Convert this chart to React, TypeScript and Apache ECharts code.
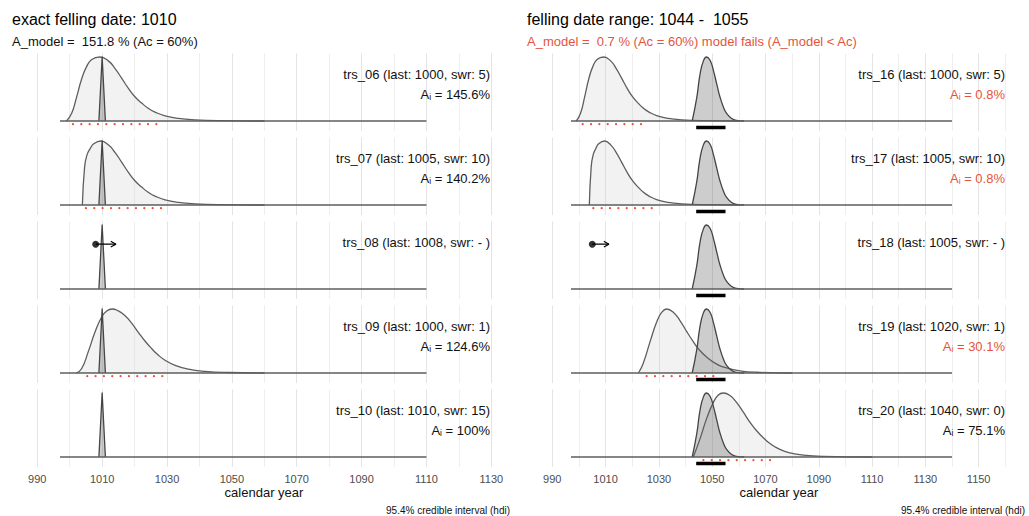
import React, { useEffect, useRef } from "react";
import * as echarts from "echarts";

// ---------------- data ----------------
const leftTicks = [990, 1010, 1030, 1050, 1070, 1090, 1110, 1130];
const rightTicks = [990, 1010, 1030, 1050, 1070, 1090, 1110, 1130, 1150];

const leftLabels = [
  "trs_06 (last: 1000, swr: 5)",
  "trs_07 (last: 1005, swr: 10)",
  "trs_08 (last: 1008, swr: - )",
  "trs_09 (last: 1000, swr: 1)",
  "trs_10 (last: 1010, swr: 15)",
];
const rightLabels = [
  "trs_16 (last: 1000, swr: 5)",
  "trs_17 (last: 1005, swr: 10)",
  "trs_18 (last: 1005, swr: - )",
  "trs_19 (last: 1020, swr: 1)",
  "trs_20 (last: 1040, swr: 0)",
];
const leftAi = ["145.6%", "140.2%", null, "124.6%", "100%"];
const rightAi = ["0.8%", "0.8%", null, "30.1%", "75.1%"];
const rightAiFail = [true, true, false, true, false];

// sapwood model densities (scaled to peak = 1)
const sap_swr5 = [
  [999, 0], [1000.6, 0.12], [1002.1, 0.37], [1003.7, 0.66], [1005.2, 0.85], [1006.8, 0.96],
  [1009.3, 1.0], [1011.9, 0.94], [1014, 0.82], [1016, 0.67], [1018.1, 0.51], [1020.1, 0.38],
  [1022.2, 0.28], [1024.2, 0.2], [1026.3, 0.14], [1029.4, 0.08], [1033.5, 0.04], [1038.6, 0.018],
  [1046.9, 0.005], [1060, 0],
];
const sap_swr10 = [
  [1003.9, 0], [1004.6, 0.6], [1005.3, 0.78], [1006.3, 0.88], [1007.5, 0.96], [1009.6, 1.0],
  [1011.9, 0.94], [1014, 0.82], [1016, 0.67], [1018.1, 0.51], [1020.1, 0.38], [1022.2, 0.28],
  [1024.2, 0.2], [1026.3, 0.14], [1029.4, 0.08], [1033.5, 0.04], [1038.6, 0.018], [1046.9, 0.005],
  [1060, 0],
];
const sap_trs09 = [
  [1002.1, 0], [1003.7, 0.07], [1005.7, 0.33], [1007.8, 0.64], [1009.9, 0.88], [1011.4, 0.97],
  [1013.1, 1.0], [1015, 0.97], [1017, 0.9], [1019.1, 0.78], [1021.1, 0.64], [1023.2, 0.5],
  [1025.3, 0.38], [1027.3, 0.28], [1029.4, 0.2], [1032.5, 0.12], [1036.6, 0.06], [1041.7, 0.026],
  [1049, 0.008], [1060, 0],
];
const sap_trs19 = [
  [1022.3, 0], [1024.1, 0.15], [1026.7, 0.49], [1029.2, 0.8], [1031.1, 0.95], [1032.9, 1.0],
  [1035.4, 0.95], [1037.9, 0.82], [1040.4, 0.65], [1042.9, 0.49], [1044.8, 0.38], [1047.9, 0.25],
  [1051.7, 0.14], [1055.4, 0.08], [1060.4, 0.035], [1066.7, 0.012], [1080, 0],
];
const sap_trs20 = [
  [1042.9, 0], [1045.4, 0.28], [1047.9, 0.6], [1050.4, 0.85], [1052.3, 0.97], [1054.2, 1.0],
  [1056.7, 0.96], [1059.2, 0.85], [1061.7, 0.7], [1064.2, 0.54], [1066.7, 0.41], [1069.2, 0.3],
  [1071.7, 0.21], [1075.4, 0.12], [1079.2, 0.065], [1084.2, 0.03], [1091.7, 0.01], [1110, 0],
];
const leftCurves = [sap_swr5, sap_swr10, null, sap_trs09, null];
const rightCurves = [sap_swr5, sap_swr10, null, sap_trs19, sap_trs20];

// combined felling-date models
const exactModel = [[1009, 0], [1010, 1], [1011, 0]];
const rangeModel = [
  [1042.5, 0], [1044.2, 0.36], [1045.4, 0.72], [1046.7, 0.94], [1047.9, 1.0], [1049.2, 0.95],
  [1050.4, 0.8], [1051.7, 0.58], [1052.9, 0.38], [1054.2, 0.22], [1055.4, 0.12], [1057.3, 0.04],
  [1059.2, 0.01], [1062, 0],
];
const rangeHdi = [1044, 1055];

// 95.4% hdi of each series
const leftHdi = [[1001, 1027], [1005, 1028.5], null, [1005.4, 1031], null];
const rightHdi = [[1001.4, 1026.4], [1005.4, 1027.5], null, [1025.4, 1051], [1046.7, 1073]];

// series without sapwood: last ring, arrow
const leftNoSap = [null, null, 1008, null, null];
const rightNoSap = [null, null, 1005, null, null];
const ARROW_LEN = 6.25;
const ARROW_Y = 0.7;

const leftBaseRange = [997, 1110];
const rightBaseRange = [997, 1140];

// ---------------- layout ----------------
const FONT = "'Liberation Sans', Arial, Helvetica, sans-serif";
const RED = "#e5533d";
const ROW_TOP0 = 53.5;
const ROW_STEP = 84;
const ROW_H = 77.5;
const Y_MIN = -0.156;
const Y_MAX = 1.055;

const panels = [
  {
    left: 30.8, width: 467, min: 988, max: 1132, ticks: leftTicks, gridFrom: 990, gridTo: 1130,
    labels: leftLabels, ai: leftAi, aiFail: [false, false, false, false, false], curves: leftCurves,
    model: exactModel, smoothModel: false, hdi: leftHdi, noSap: leftNoSap, bar: null,
    base: leftBaseRange, textRight: 490, center: 264, capRight: 510, headX: 1.6,
  },
  {
    left: 544.3, width: 469, min: 987, max: 1163, ticks: rightTicks, gridFrom: 990, gridTo: 1160,
    labels: rightLabels, ai: rightAi, aiFail: rightAiFail, curves: rightCurves,
    model: rangeModel, smoothModel: true, hdi: rightHdi, noSap: rightNoSap, bar: rangeHdi,
    base: rightBaseRange, textRight: 1005, center: 779, capRight: 1025, headX: 1.9,
  },
];

function buildOption() {
  const grid: any[] = [];
  const xAxis: any[] = [];
  const yAxis: any[] = [];
  const series: any[] = [];
  const texts: any[] = [];

  panels.forEach((p, pi) => {
    for (let k = 0; k < 5; k++) {
      const gi = pi * 5 + k;
      const top = ROW_TOP0 + k * ROW_STEP;
      const baseY = top + (Y_MAX / (Y_MAX - Y_MIN)) * ROW_H;
      grid.push({ left: p.left, top, width: p.width, height: ROW_H, containLabel: false });
      const bottom = k === 4;
      xAxis.push({
        type: "value", gridIndex: gi, min: p.min, max: p.max,
        axisLine: { show: false }, axisTick: { show: false }, splitLine: { show: false },
        axisLabel: bottom
          ? {
              show: true, customValues: p.ticks, color: "#4d4d4d", fontSize: 11, margin: 6,
              fontFamily: FONT, formatter: (v: number) => String(v),
            }
          : { show: false },
      });
      yAxis.push({ type: "value", gridIndex: gi, min: Y_MIN, max: Y_MAX, show: false });

      const common = { xAxisIndex: gi, yAxisIndex: gi, silent: true, symbol: "none", animation: false };

      // grid lines
      const gl: any[] = [];
      for (let v = p.gridFrom; v <= p.gridTo; v += 10) {
        const major = (v - p.gridFrom) % 20 === 0;
        gl.push({ xAxis: v, lineStyle: { color: major ? "#e4e4e4" : "#eeeeee", width: 1, type: "solid" } });
      }
      series.push({
        ...common, type: "line", z: 1, data: [[p.base[0], 0]], lineStyle: { width: 0 },
        markLine: { silent: true, z: 1, symbol: ["none", "none"], label: { show: false }, data: gl, animation: false },
      });

      // sapwood model of the series
      const c = p.curves[k];
      if (c) {
        series.push({
          ...common, type: "line", z: 3, data: c, smooth: 0.5,
          lineStyle: { color: "#5e5e5e", width: 1.3, join: "round" },
          areaStyle: { color: "rgba(200,200,200,0.33)" },
        });
      }
      // combined model
      series.push({
        ...common, type: "line", z: 4, data: p.model, smooth: p.smoothModel ? 0.5 : false,
        lineStyle: { color: "#454545", width: 1.3, join: "round" },
        areaStyle: { color: "rgba(95,95,95,0.45)" },
      });
      // baseline
      series.push({
        ...common, type: "line", z: 5, data: [[p.base[0], 0], [p.base[1], 0]],
        lineStyle: { color: "#5e5e5e", width: 1.3 },
      });
      // hdi dotted
      const h = p.hdi[k];
      if (h) {
        series.push({
          ...common, type: "line", z: 5, data: [[h[0], -0.05], [h[1], -0.05]],
          lineStyle: { color: RED, width: 2.2, type: [0.01, 8.33], cap: "round" },
        });
      }
      // hdi of the model
      if (p.bar) {
        series.push({
          ...common, type: "line", z: 6, data: [[p.bar[0], -0.1], [p.bar[1], -0.1]],
          lineStyle: { color: "#000", width: 3.5, cap: "butt" },
        });
      }
      // no sapwood marker
      const ns = p.noSap[k];
      if (ns != null) {
        const tip = ns + ARROW_LEN;
        series.push({
          ...common, type: "line", z: 6, data: [[ns, ARROW_Y], [tip, ARROW_Y]],
          lineStyle: { color: "#000", width: 1.2 },
        });
        series.push({
          ...common, type: "line", z: 6,
          data: [[tip - p.headX, ARROW_Y + 0.045], [tip, ARROW_Y], [tip - p.headX, ARROW_Y - 0.045]],
          lineStyle: { color: "#000", width: 1.2 },
        });
        series.push({
          ...common, type: "scatter", z: 7, data: [[ns, ARROW_Y]], symbol: "circle", symbolSize: 7,
          itemStyle: { color: "#000" },
        });
      }

      // labels
      texts.push({
        type: "text", x: p.textRight, y: baseY - 47, silent: true, z: 20,
        style: {
          text: p.labels[k], fill: "#111", fontSize: 13, fontFamily: FONT,
          align: "right", verticalAlign: "middle", textAlign: "right", textVerticalAlign: "middle",
        },
      });
      const ai = p.ai[k];
      if (ai) {
        const col = p.aiFail[k] ? RED : "#111";
        texts.push({
          type: "text", x: p.textRight, y: baseY - 26.5, silent: true, z: 20,
          style: {
            text: "A{sub|i} = " + ai, fill: col, fontSize: 13, fontFamily: FONT,
            align: "right", verticalAlign: "middle", textAlign: "right", textVerticalAlign: "middle",
            rich: { sub: { fontSize: 8.5, fill: col, color: col, fontFamily: FONT, verticalAlign: "bottom", lineHeight: 8, padding: [7, 0, 0, 0] } },
          },
        });
      }
    }
    texts.push({
      type: "text", x: p.center, y: 492, silent: true,
      style: { text: "calendar year", fill: "#111", fontSize: 13, fontFamily: FONT, align: "center", verticalAlign: "middle", textAlign: "center", textVerticalAlign: "middle" },
    });
    texts.push({
      type: "text", x: p.capRight, y: 510, silent: true,
      style: { text: "95.4% credible interval (hdi)", fill: "#111", fontSize: 10, fontFamily: FONT, align: "right", verticalAlign: "middle", textAlign: "right", textVerticalAlign: "middle" },
    });
  });

  texts.push({
    type: "text", x: 12, y: 19, silent: true,
    style: { text: "exact felling date: 1010", fill: "#000", fontSize: 16, fontFamily: FONT, align: "left", verticalAlign: "middle", textAlign: "left", textVerticalAlign: "middle" },
  });
  texts.push({
    type: "text", x: 12, y: 41, silent: true,
    style: { text: "A_model =  151.8 % (Ac = 60%)", fill: "#111", fontSize: 13, fontFamily: FONT, align: "left", verticalAlign: "middle", textAlign: "left", textVerticalAlign: "middle" },
  });
  texts.push({
    type: "text", x: 527, y: 19, silent: true,
    style: { text: "felling date range: 1044 -  1055", fill: "#000", fontSize: 16, fontFamily: FONT, align: "left", verticalAlign: "middle", textAlign: "left", textVerticalAlign: "middle" },
  });
  texts.push({
    type: "text", x: 527, y: 41, silent: true,
    style: { text: "A_model =  0.7 % (Ac = 60%) model fails (A_model < Ac)", fill: RED, fontSize: 13, fontFamily: FONT, align: "left", verticalAlign: "middle", textAlign: "left", textVerticalAlign: "middle" },
  });

  return {
    animation: false,
    backgroundColor: "#ffffff",
    textStyle: { fontFamily: FONT },
    grid, xAxis, yAxis, series,
    graphic: { elements: texts },
  };
}

export default function App() {
  const ref = useRef<HTMLDivElement>(null);
  useEffect(() => {
    document.body.style.margin = "0";
    if (!ref.current) return;
    const chart = echarts.init(ref.current, undefined, { renderer: "svg" });
    chart.setOption(buildOption() as any);
    return () => chart.dispose();
  }, []);
  return <div ref={ref} style={{ width: 1029, height: 516 }} />;
}
